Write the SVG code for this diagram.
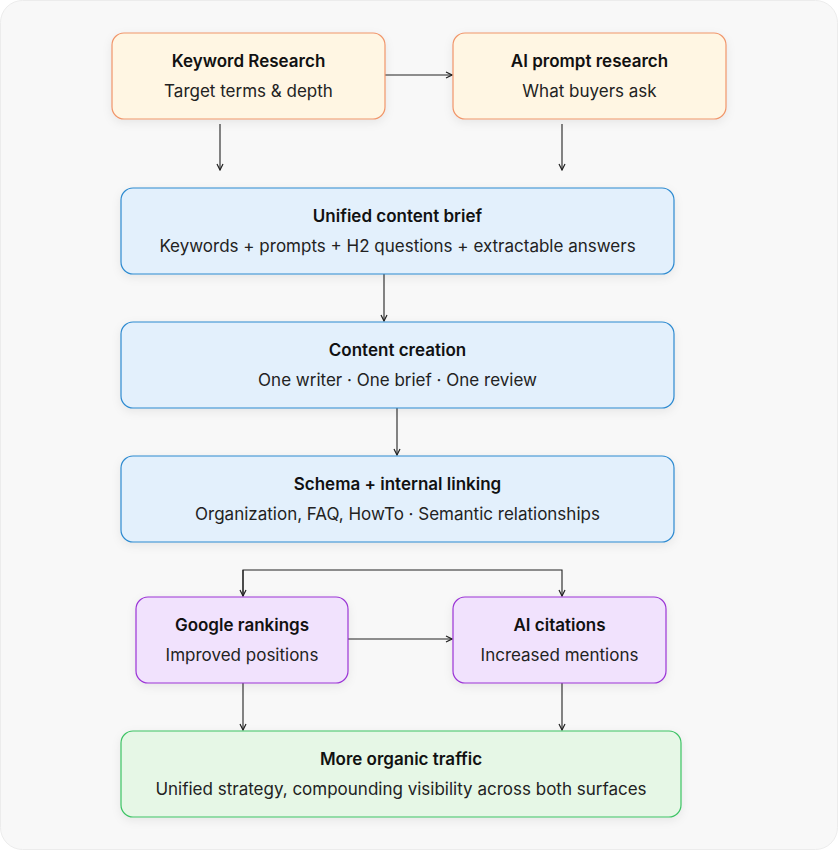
<svg xmlns="http://www.w3.org/2000/svg" width="838" height="850" viewBox="0 0 838 850">
<defs>
<marker id="ah" markerWidth="8" markerHeight="8" refX="7" refY="4" orient="auto" markerUnits="userSpaceOnUse"><path d="M1,1 L7,4 L1,7" fill="none" stroke="#222" stroke-width="1.2"/></marker>
<filter id="sh" x="-10%" y="-20%" width="120%" height="150%"><feDropShadow dx="0" dy="3" stdDeviation="5" flood-color="#000" flood-opacity="0.07"/></filter>
<style>
.t{font-family:Inter,"Noto Sans",sans-serif;font-size:17px;font-weight:600;fill:#111;text-anchor:middle}
.s{font-family:Inter,"Noto Sans",sans-serif;font-size:17px;fill:#222;text-anchor:middle}
.o{fill:#fff6e3;stroke:#f0956a;stroke-width:1.2}
.b{fill:#e3f0fc;stroke:#2d8ad0;stroke-width:1.2}
.p{fill:#f1e2fd;stroke:#9b35d6;stroke-width:1.2}
.g{fill:#e6f7e6;stroke:#3cc364;stroke-width:1.2}
.c line,.c path{stroke:#222;stroke-width:1.1;fill:none;marker-end:url(#ah)}
</style>
</defs>
<rect x="0.5" y="0.5" width="837" height="849" rx="22" fill="#f8f8f8" stroke="#ececec"/>
<g class="c">
<line x1="385" y1="75" x2="452" y2="75"/>
<line x1="220" y1="124" x2="220" y2="170"/>
<line x1="562" y1="124" x2="562" y2="170"/>
<line x1="384" y1="274" x2="384" y2="321"/>
<line x1="397" y1="408" x2="397" y2="455"/>
<path d="M243,596 L243,570 L562,570 L562,596"/>
<line x1="243" y1="570" x2="243" y2="596"/>
<line x1="348" y1="639" x2="452" y2="639"/>
<line x1="243" y1="683" x2="243" y2="730"/>
<line x1="562" y1="683" x2="562" y2="730"/>
</g>
<g id="kw"><rect class="o" filter="url(#sh)" x="112" y="33" width="273" height="86" rx="12"/><text class="t" x="248.5" y="67">Keyword Research</text><text class="s" x="248.5" y="97">Target terms &amp; depth</text></g>
<g id="ai"><rect class="o" filter="url(#sh)" x="453" y="33" width="273" height="86" rx="12"/><text class="t" x="589.5" y="67">AI prompt research</text><text class="s" x="589.5" y="97">What buyers ask</text></g>
<g id="brief"><rect class="b" filter="url(#sh)" x="121" y="188" width="553" height="86" rx="12"/><text class="t" x="397.5" y="222">Unified content brief</text><text class="s" x="397.5" y="252">Keywords + prompts + H2 questions + extractable answers</text></g>
<g id="create"><rect class="b" filter="url(#sh)" x="121" y="322" width="553" height="86" rx="12"/><text class="t" x="397.5" y="356">Content creation</text><text class="s" x="397.5" y="386">One writer · One brief · One review</text></g>
<g id="schema"><rect class="b" filter="url(#sh)" x="121" y="456" width="553" height="86" rx="12"/><text class="t" x="397.5" y="490">Schema + internal linking</text><text class="s" x="397.5" y="520">Organization, FAQ, HowTo · Semantic relationships</text></g>
<g id="google"><rect class="p" filter="url(#sh)" x="136" y="597" width="212" height="86" rx="12"/><text class="t" x="242" y="631">Google rankings</text><text class="s" x="242" y="661">Improved positions</text></g>
<g id="cite"><rect class="p" filter="url(#sh)" x="453" y="597" width="213" height="86" rx="12"/><text class="t" x="559.5" y="631">AI citations</text><text class="s" x="559.5" y="661">Increased mentions</text></g>
<g id="traffic"><rect class="g" filter="url(#sh)" x="121" y="731" width="560" height="86" rx="12"/><text class="t" x="401" y="765">More organic traffic</text><text class="s" x="401" y="795">Unified strategy, compounding visibility across both surfaces</text></g>
</svg>
